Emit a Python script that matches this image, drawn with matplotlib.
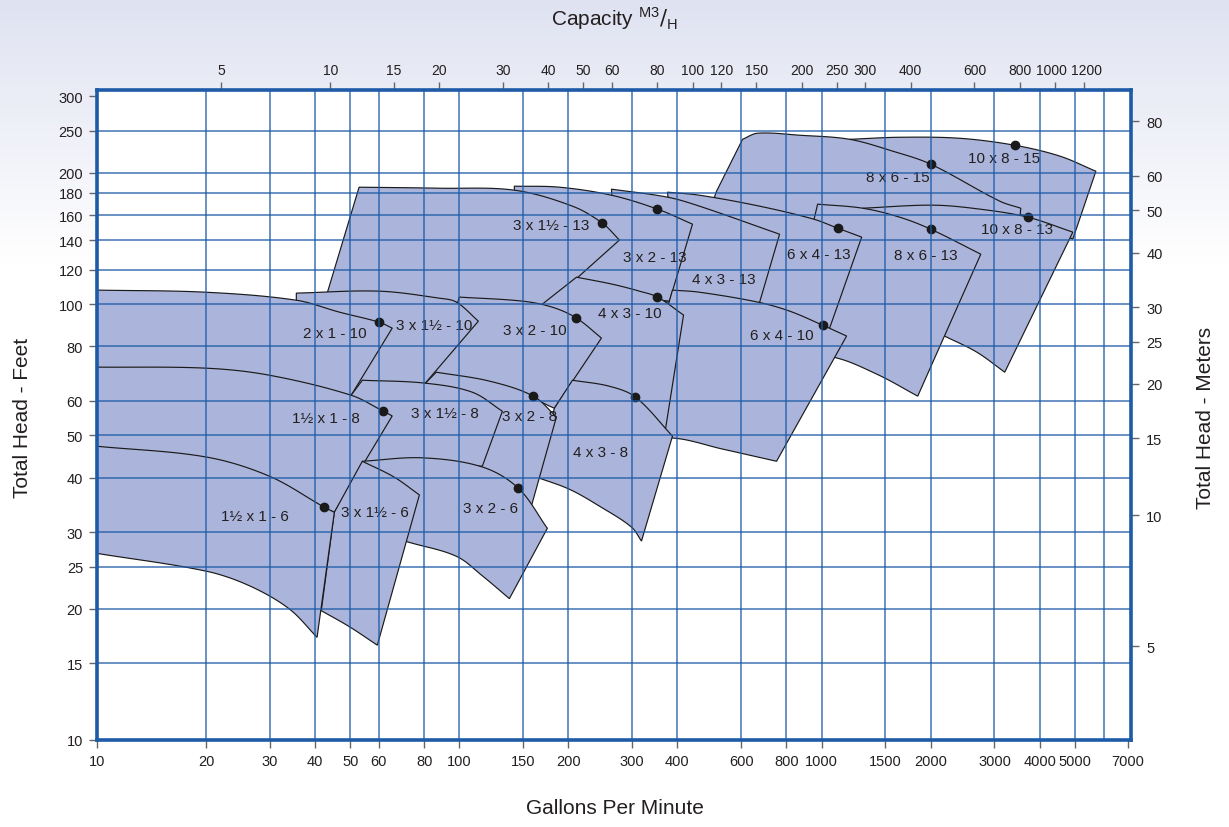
import numpy as np
import matplotlib
matplotlib.use('Agg')
import matplotlib.pyplot as plt
import matplotlib.transforms as mtransforms
from matplotlib.patches import Polygon
from matplotlib.ticker import FixedLocator, NullLocator, FuncFormatter

plt.rcParams['font.family'] = ['Liberation Sans', 'DejaVu Sans']

# Each pump range: top curve (max impeller) and bottom curve (min impeller),
# both as (gpm, feet) pairs from left to right.
names = ['10 x 8 - 15', '8 x 6 - 15',
         '10 x 8 - 13', '8 x 6 - 13', '6 x 4 - 13', '4 x 3 - 13', '3 x 2 - 13', '3 x 1½ - 13',
         '6 x 4 - 10', '4 x 3 - 10', '3 x 2 - 10', '3 x 1½ - 10', '2 x 1 - 10',
         '4 x 3 - 8', '3 x 2 - 8', '3 x 1½ - 8', '1½ x 1 - 8',
         '3 x 2 - 6', '3 x 1½ - 6', '1½ x 1 - 6']

top_10x8_15 = [(1195, 238.9), (1643, 241.5), (2406, 240.2), (3413, 231.5), (4545, 218.6), (5714, 201.8)]
bot_10x8_15 = [(1195, 174.1), (3102, 166.0), (4936, 141.0)]
top_8x6_15 = [(512.9, 181.6), (605.1, 238.9), (665.7, 246.7), (869.8, 244.1), (1195, 238.9),
              (1571, 224.4), (2000, 209.5), (3102, 172.3), (3546, 166.0)]
bot_8x6_15 = [(460.3, 141.0), (1643, 148.6), (3479, 141.0)]

top_10x8_13 = [(1298, 166.0), (2026, 168.7), (2733, 165.2), (3709, 158.3), (4936, 146.3)]
bot_10x8_13 = [(1988, 87.6), (2215, 84.0), (2681, 77.6), (3202, 69.8)]
top_8x6_13 = [(950.4, 155.0), (974.9, 169.6), (1298, 166.0), (1643, 158.3), (2000, 148.6), (2750, 130.2)]
bot_8x6_13 = [(869.8, 74.8), (1073, 75.6), (1419, 69.1), (1842, 61.5)]
top_6x4_13 = [(375.5, 180.7), (460.3, 177.8), (674.2, 167.8), (950.4, 156.7), (1107, 149.4), (1290, 142.5)]
bot_6x4_13 = [(405.3, 97.4), (674.2, 93.4), (1045, 86.7)]
top_4x3_13 = [(263.0, 183.6), (375.5, 176.0), (460.3, 167.8), (765.6, 144.7)]
bot_4x3_13 = [(276.7, 102.7), (460.3, 100.0), (665.7, 97.4)]
top_3x2_13 = [(141.9, 186.5), (188.9, 185.5), (263.0, 177.8), (352.4, 165.2), (440.2, 152.6)]
bot_3x2_13 = [(141.9, 102.7), (243.6, 105.4), (380.3, 101.6)]
top_3x15_13 = [(52.9, 185.5), (88.1, 184.5), (141.9, 182.6), (205.3, 167.8), (248.3, 153.4), (276.7, 140.3)]
bot_3x15_13 = [(41.1, 92.4), (93.9, 92.4), (169.5, 97.4)]

top_6x4_10 = [(377.9, 100.0), (387.6, 107.7), (460.3, 106.5), (665.7, 101.1), (815.6, 96.4),
              (1006, 89.5), (1172, 84.5)]
bot_6x4_10 = [(334.9, 47.7), (387.6, 49.3), (532.9, 46.5), (751.0, 43.6)]
top_4x3_10 = [(169.5, 100.0), (210.6, 115.3), (264.7, 111.1), (314.2, 107.1), (352.4, 103.8), (415.8, 94.4)]
bot_4x3_10 = [(183.0, 63.8), (294.8, 59.0), (370.8, 51.7)]
top_3x2_10 = [(80.1, 63.8), (93.9, 87.6), (100.0, 103.8), (149.3, 101.6), (180.7, 98.4),
              (210.6, 92.9), (246.8, 83.6)]
bot_3x2_10 = [(80.1, 63.8), (146.5, 62.2), (183.0, 57.7)]
top_3x15_10 = [(35.5, 106.0), (60.1, 107.1), (88.1, 103.2), (98.1, 101.1), (112.9, 91.4)]
bot_3x15_10 = [(35.5, 65.5), (52.9, 63.8), (80.1, 65.5)]
top_2x1_10 = [(10, 107.7), (20, 106.5), (35.5, 102.1), (46.6, 95.9), (60.1, 90.9), (65.3, 88.1)]
bot_2x1_10 = [(10, 67.3), (26.3, 65.5), (50.3, 61.8)]

top_4x3_8 = [(183.0, 57.7), (205.3, 66.9), (259.7, 64.8), (306.3, 61.2), (387.6, 49.8)]
bot_4x3_8 = [(163.2, 40.1), (201.4, 37.6), (243.6, 34.4), (298.6, 30.8), (318.3, 28.6)]
top_3x2_8 = [(80.1, 65.5), (86.4, 69.8), (121.0, 66.6), (160.1, 61.5), (185.4, 55.1)]
bot_3x2_8 = [(80.1, 44.1), (121.0, 38.7), (158.1, 34.4)]
top_3x15_8 = [(50.3, 61.8), (54.0, 66.9), (80.1, 65.9), (108.6, 62.8), (131.5, 56.8)]
bot_3x15_8 = [(50.3, 41.8), (77.6, 42.3), (115.8, 42.5)]
top_15x1_8 = [(10, 71.7), (20, 71.3), (29.9, 68.7), (50.3, 61.8), (61.7, 56.8), (65.3, 55.4)]
bot_15x1_8 = [(10, 44.1), (20, 41.8), (31.8, 37.6), (45.2, 33.3)]

top_3x2_6 = [(54.0, 43.6), (79.1, 44.4), (115.8, 42.3), (145.6, 37.8), (175.0, 30.6)]
bot_3x2_6 = [(66.1, 29.2), (71.8, 28.5), (98.1, 26.4), (115.8, 23.8), (137.5, 21.1)]
top_3x15_6 = [(45.2, 33.3), (54.0, 43.6), (66.1, 40.1), (77.6, 36.5)]
bot_3x15_6 = [(41.6, 19.8), (49.7, 18.2), (59.4, 16.5)]
top_15x1_6 = [(10, 47.2), (20, 44.6), (29.9, 40.3), (42.4, 34.2), (45.2, 33.3)]
bot_15x1_6 = [(10, 26.8), (20, 24.4), (26.3, 22.6), (33.9, 20.0), (40.5, 17.2)]

tops = [top_10x8_15, top_8x6_15, top_10x8_13, top_8x6_13, top_6x4_13, top_4x3_13, top_3x2_13,
        top_3x15_13, top_6x4_10, top_4x3_10, top_3x2_10, top_3x15_10, top_2x1_10, top_4x3_8,
        top_3x2_8, top_3x15_8, top_15x1_8, top_3x2_6, top_3x15_6, top_15x1_6]
bots = [bot_10x8_15, bot_8x6_15, bot_10x8_13, bot_8x6_13, bot_6x4_13, bot_4x3_13, bot_3x2_13,
        bot_3x15_13, bot_6x4_10, bot_4x3_10, bot_3x2_10, bot_3x15_10, bot_2x1_10, bot_4x3_8,
        bot_3x2_8, bot_3x15_8, bot_15x1_8, bot_3x2_6, bot_3x15_6, bot_15x1_6]

# label anchor (gpm, feet) for each pump, same order as names
label_gpm = [3183, 1622, 3457, 1938, 981, 536.3, 345.7, 179.6, 775.4, 294.8, 161.1, 85.3, 45.2,
             245.2, 156.1, 91.5, 42.9, 121.8, 58.6, 27.3]
label_head = [216.2, 195.6, 148.6, 129.5, 130.2, 114.1, 128.2, 151.8, 84.9, 95.4, 87.2, 89.5, 85.8,
              45.8, 55.4, 56.2, 54.8, 34.0, 33.3, 32.6]

# best efficiency points
bep_gpm = [3413, 2000, 3709, 2000, 1107, 352.4, 248.3, 1006, 352.4, 210.6, 60.1, 306.3, 160.1,
           61.7, 145.6, 42.4]
bep_head = [231.5, 209.5, 158.3, 148.6, 149.4, 165.2, 153.4, 89.5, 103.8, 92.9, 90.9, 61.2, 61.5,
            56.8, 37.8, 34.2]

ft_ticks = [10, 15, 20, 25, 30, 40, 50, 60, 80, 100, 120, 140, 160, 180, 200, 250, 300]
gpm_ticks = [10, 20, 30, 40, 50, 60, 80, 100, 150, 200, 300, 400, 600, 800, 1000, 1500, 2000,
             3000, 4000, 5000, 7000]
m_ticks = [5, 10, 15, 20, 25, 30, 40, 50, 60, 80]
m3h_ticks = [5, 10, 15, 20, 30, 40, 50, 60, 80, 100, 120, 150, 200, 250, 300, 400, 600, 800,
             1000, 1200]
grid_x = [20, 30, 40, 50, 60, 80, 100, 150, 200, 300, 400, 600, 800, 1000, 1500, 2000, 3000,
          4000, 5000, 6000]
grid_y = [15, 20, 25, 30, 40, 50, 60, 80, 100, 120, 140, 160, 180, 200, 250]

GPM_PER_M3H = 4.403
FT_PER_M = 3.281

fill = '#abb4da'
blue = '#1d5aa8'
txt = '#231f20'

fig = plt.figure(figsize=(12.29, 8.28), dpi=100)

# soft lavender wash at the top of the page
bg = fig.add_axes([0, 0, 1, 1], zorder=-10)
shade = np.clip(np.linspace(0, 1, 400) / 0.32, 0, 1)
top_col = np.array([0.875, 0.886, 0.945])
img = top_col[None, :] * (1 - shade[:, None]) + np.ones(3)[None, :] * shade[:, None]
bg.imshow(img[:, None, :], aspect='auto', extent=[0, 1, 0, 1])
bg.axis('off')

ax = fig.add_axes([0.0789, 0.1051, 0.8413, 0.7850])
ax.set_xscale('log')
ax.set_yscale('log')
ax.set_xlim(10, 7140)
ax.set_ylim(10, 310)
ax.set_facecolor('white')


def smooth(points, n=14, corner=32):
    # rounds the curve through the read points in screen space, keeps sharp corners
    P = ax.transData.transform(np.asarray(points, dtype=float))
    m = len(P)
    dirs = []
    for i in range(m):
        if i == 0 or i == m - 1:
            dirs.append(None)
            continue
        a, b = P[i] - P[i - 1], P[i + 1] - P[i]
        cosang = np.dot(a, b) / (np.linalg.norm(a) * np.linalg.norm(b))
        if np.degrees(np.arccos(np.clip(cosang, -1, 1))) > corner:
            dirs.append(None)
        else:
            d = P[i + 1] - P[i - 1]
            dirs.append(d / np.linalg.norm(d))
    out = [P[0]]
    s = np.linspace(0, 1, n)[1:, None]
    h00, h10 = 2 * s**3 - 3 * s**2 + 1, s**3 - 2 * s**2 + s
    h01, h11 = -2 * s**3 + 3 * s**2, s**3 - s**2
    for i in range(m - 1):
        p0, p1 = P[i], P[i + 1]
        seg = p1 - p0
        L = np.linalg.norm(seg)
        t0 = seg if dirs[i] is None else dirs[i] * L
        t1 = seg if dirs[i + 1] is None else dirs[i + 1] * L
        out.extend(h00 * p0 + h10 * t0 + h01 * p1 + h11 * t1)
    return ax.transData.inverted().transform(np.array(out))


for i, (top, bot) in enumerate(zip(tops, bots)):
    verts = np.vstack([smooth(top), smooth(bot)[::-1]])
    ax.add_patch(Polygon(verts, closed=True, facecolor=fill, edgecolor='#1a1a1a',
                         linewidth=0.85, zorder=1 + i * 0.01))

for name, gx, hy in zip(names, label_gpm, label_head):
    ax.text(gx, hy, name, ha='center', va='center', fontsize=11, color=txt, zorder=2)

ax.plot(bep_gpm, bep_head, 'o', color='#1a1a1a', markersize=6, zorder=2.1)

for g in grid_x:
    ax.axvline(g, color=blue, linewidth=1.1, alpha=0.85, zorder=3)
for h in grid_y:
    ax.axhline(h, color=blue, linewidth=1.1, alpha=0.85, zorder=3)

fmt = FuncFormatter(lambda v, p: f'{v:g}')
ax.xaxis.set_major_locator(FixedLocator(gpm_ticks))
ax.xaxis.set_minor_locator(NullLocator())
ax.xaxis.set_major_formatter(fmt)
ax.yaxis.set_major_locator(FixedLocator(ft_ticks))
ax.yaxis.set_minor_locator(NullLocator())
ax.yaxis.set_major_formatter(fmt)
ax.tick_params(axis='both', direction='out', length=6, width=1, color='#666666',
               labelsize=10.5, labelcolor=txt, pad=4)

for s in ax.spines.values():
    s.set_color(blue)
    s.set_linewidth(2.6)
    s.set_zorder(4)

secx = ax.secondary_xaxis('top', functions=(lambda g: g / GPM_PER_M3H, lambda m: m * GPM_PER_M3H))
secx.xaxis.set_major_locator(FixedLocator(m3h_ticks))
secx.xaxis.set_minor_locator(NullLocator())
secx.xaxis.set_major_formatter(fmt)
secx.tick_params(direction='out', length=6, width=1, color='#666666', labelsize=10,
                 labelcolor=txt, pad=3)
secx.spines['top'].set_visible(False)

secy = ax.secondary_yaxis('right', functions=(lambda f: f / FT_PER_M, lambda m: m * FT_PER_M))
secy.yaxis.set_major_locator(FixedLocator(m_ticks))
secy.yaxis.set_minor_locator(NullLocator())
secy.yaxis.set_major_formatter(fmt)
secy.tick_params(direction='out', length=6, width=1, color='#666666', labelsize=10.5,
                 labelcolor=txt, pad=5)
secy.spines['right'].set_visible(False)

# the two last top labels sit very close: nudge them apart a little
fig.canvas.draw()
top_labels = secx.xaxis.get_ticklabels()
for lab, dx in ((top_labels[-2], -3), (top_labels[-1], 3)):
    lab.set_transform(lab.get_transform()
                      + mtransforms.ScaledTranslation(dx / 100, 0, fig.dpi_scale_trans))

fig.text(0.5, 0.024, 'Gallons Per Minute', ha='center', va='center', fontsize=15, color=txt)
fig.text(0.018, 0.495, 'Total Head - Feet', ha='center', va='center', rotation=90,
         fontsize=15, color=txt)
fig.text(0.981, 0.495, 'Total Head - Meters', ha='center', va='center', rotation=90,
         fontsize=15, color=txt)
fig.text(0.5, 0.978, r'Capacity $^{\mathregular{M3}}/_{\mathregular{H}}$', ha='center',
         va='center', fontsize=15, color=txt)

fig.savefig('out.png', dpi=100)
